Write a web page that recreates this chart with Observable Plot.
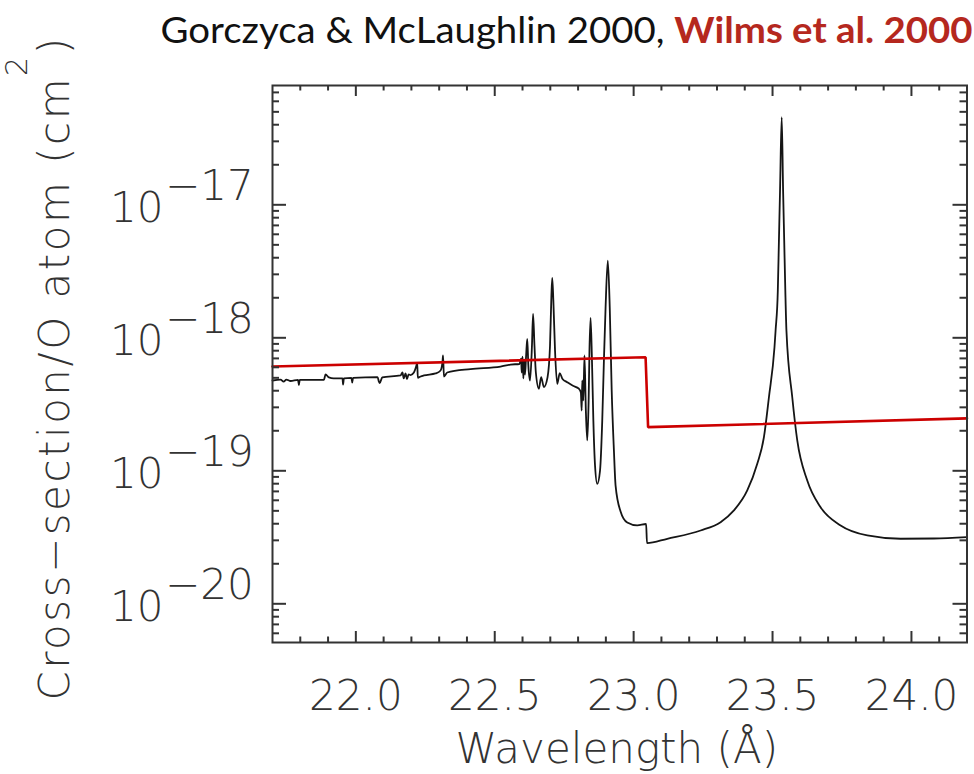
<!DOCTYPE html>
<html>
<head>
<meta charset="utf-8">
<script src="https://cdn.jsdelivr.net/npm/d3@7"></script>
<script src="https://cdn.jsdelivr.net/npm/@observablehq/plot@0.6"></script>
<style>
  body { margin: 0; background: #fff; }
  svg { display: block; }
</style>
</head>
<body>
<div id="chart"></div>
<script>
// Gorczyca & McLaughlin 2000 : wavelength (Å) and log10 cross-section (cm^2)
const gmWavelength = [
  21.700, 21.729, 21.740, 21.750, 21.765, 21.792, 21.795, 21.798, 21.885, 21.891,
  21.903, 21.920, 21.952, 21.954, 21.957, 21.984, 21.987, 21.990, 22.078, 22.083,
  22.086, 22.095, 22.161, 22.168, 22.172, 22.179, 22.184, 22.190, 22.197, 22.209,
  22.217, 22.221, 22.223, 22.233, 22.245, 22.287, 22.305, 22.312, 22.314, 22.317,
  22.329, 22.413, 22.521, 22.557, 22.589, 22.595, 22.597, 22.600, 22.603, 22.606,
  22.609, 22.613, 22.617, 22.621, 22.627, 22.634, 22.638, 22.643, 22.648, 22.659,
  22.667, 22.677, 22.690, 22.699, 22.704, 22.707, 22.711, 22.717, 22.725, 22.734,
  22.744, 22.761, 22.780, 22.803, 22.810, 22.813, 22.815, 22.819, 22.823, 22.828,
  22.833, 22.838, 22.841, 22.845, 22.850, 22.855, 22.861, 22.869, 22.879, 22.887,
  22.893, 22.899, 22.907, 22.914, 22.921, 22.929, 22.935, 22.953, 22.977, 23.013,
  23.045, 23.048, 23.121, 23.241, 23.313, 23.361, 23.409, 23.445, 23.469, 23.487,
  23.507, 23.511, 23.519, 23.523, 23.527, 23.533, 23.538, 23.542, 23.546, 23.550,
  23.571, 23.589, 23.625, 23.673, 23.745, 23.841, 23.961, 24.081, 24.200
];
const gmLogSigma = [
  -18.321, -18.314, -18.329, -18.314, -18.325, -18.317, -18.355, -18.317, -18.317, -18.276,
  -18.298, -18.305, -18.305, -18.351, -18.305, -18.302, -18.336, -18.302, -18.295, -18.329,
  -18.341, -18.298, -18.283, -18.261, -18.305, -18.268, -18.310, -18.276, -18.280, -18.261,
  -18.216, -18.188, -18.301, -18.291, -18.283, -18.268, -18.246, -18.178, -18.133, -18.291,
  -18.261, -18.235, -18.216, -18.201, -18.197, -18.156, -18.261, -18.141, -18.305, -18.171,
  -18.276, -18.133, -18.008, -18.208, -18.321, -18.058, -17.820, -18.058, -18.261, -18.383,
  -18.296, -18.371, -18.298, -18.058, -17.682, -17.549, -17.720, -18.095, -18.346, -18.266,
  -18.310, -18.334, -18.359, -18.383, -18.411, -18.547, -18.321, -18.471, -18.133, -18.547,
  -18.772, -18.471, -18.095, -17.850, -18.171, -18.622, -18.960, -19.098, -18.998, -18.622,
  -18.171, -17.772, -17.419, -17.772, -18.396, -18.847, -19.111, -19.306, -19.389, -19.411,
  -19.400, -19.544, -19.511, -19.449, -19.386, -19.298, -19.148, -18.947, -18.747, -18.447,
  -18.071, -17.945, -17.644, -17.268, -16.892, -16.341, -16.892, -17.268, -17.644, -17.945,
  -18.447, -18.772, -19.073, -19.274, -19.411, -19.486, -19.511, -19.509, -19.499
];

// Wilms et al. 2000 : wavelength (Å) and cross-section (cm^2)
const wilmsWavelength = [21.700, 23.043, 23.052, 24.200];
const wilmsSigma = [6.08e-19, 7.15e-19, 2.13e-19, 2.48e-19];

// Axis ticks
const xMajorTicks = [22.0, 22.5, 23.0, 23.5, 24.0];
const xMinorTicks = [21.8, 21.9, 22.1, 22.2, 22.3, 22.4, 22.6, 22.7, 22.8, 22.9,
                     23.1, 23.2, 23.3, 23.4, 23.6, 23.7, 23.8, 23.9, 24.1];
const yDecadeExponents = [-20, -19, -18, -17];
const yMinorMultipliers = [2, 3, 4, 5, 6, 7, 8, 9];

// Texts
const titleBlack = "Gorczyca & McLaughlin 2000, ";
const titleRed = "Wilms et al. 2000";
const xTitle = "Wavelength (Å)";
const yTitleMain = "Cross\u2212section/O atom (cm";
const yTitleSup = "2";
const yTitleEnd = ")";

// Tables built from the arrays
const gm = gmWavelength.map((w, i) => ({w, s: Math.pow(10, gmLogSigma[i])}));
const wilms = wilmsWavelength.map((w, i) => ({w, s: wilmsSigma[i]}));
const yLo = Math.pow(10, -20.291), yHi = Math.pow(10, -16.103);
const yMajorTicks = yDecadeExponents.map(e => Math.pow(10, e));
const yMinorTicks = [];
for (const e of [-21, -20, -19, -18, -17]) {
  for (const m of yMinorMultipliers) {
    const v = m * Math.pow(10, e);
    if (v > yLo && v < yHi) yMinorTicks.push(v);
  }
}

const W = 974, H = 774;
const mL = 272, mR = 7.5, mT = 85, mB = 132;
const fw = W - mL - mR, fh = H - mT - mB;
const axisColor = "#333";
const font = "DejaVu Sans";

const svg = Plot.plot({
  width: W,
  height: H,
  marginLeft: mL,
  marginRight: mR,
  marginTop: mT,
  marginBottom: mB,
  style: {background: "#fff", overflow: "visible"},
  x: {domain: [21.7, 24.2], axis: null},
  y: {type: "log", domain: [yLo, yHi], axis: null},
  marks: [
    Plot.line(gm, {x: "w", y: "s", stroke: "#151515", strokeWidth: 1.8, curve: "monotone-x"}),
    Plot.line(wilms, {x: "w", y: "s", stroke: "#cc0000", strokeWidth: 2.6, strokeLinejoin: "miter"}),
    Plot.frame({stroke: axisColor, strokeWidth: 2}),
    // bottom ticks
    Plot.tickX(xMajorTicks, {x: d => d, insetTop: fh - 11, stroke: axisColor, strokeWidth: 2}),
    Plot.tickX(xMinorTicks, {x: d => d, insetTop: fh - 5.5, stroke: axisColor, strokeWidth: 2}),
    // top ticks
    Plot.tickX(xMajorTicks, {x: d => d, insetBottom: fh - 11, stroke: axisColor, strokeWidth: 2}),
    Plot.tickX(xMinorTicks, {x: d => d, insetBottom: fh - 5.5, stroke: axisColor, strokeWidth: 2}),
    // left ticks
    Plot.tickY(yMajorTicks, {y: d => d, insetRight: fw - 14, stroke: axisColor, strokeWidth: 2}),
    Plot.tickY(yMinorTicks, {y: d => d, insetRight: fw - 7, stroke: axisColor, strokeWidth: 2}),
    // right ticks
    Plot.tickY(yMajorTicks, {y: d => d, insetLeft: fw - 14, stroke: axisColor, strokeWidth: 2}),
    Plot.tickY(yMinorTicks, {y: d => d, insetLeft: fw - 7, stroke: axisColor, strokeWidth: 2}),
    // x tick labels
    Plot.text(xMajorTicks, {
      x: d => d, text: d => d.toFixed(1), frameAnchor: "bottom", dy: 67,
      lineAnchor: "bottom", textAnchor: "middle",
      fontSize: 42, fontFamily: font, fontWeight: 200, fill: axisColor
    }),
    // y tick labels: "10" and exponent
    Plot.text(yDecadeExponents, {
      y: e => Math.pow(10, e), text: () => "10", frameAnchor: "left", dx: -109, dy: 17,
      lineAnchor: "bottom", textAnchor: "end",
      fontSize: 42, fontFamily: font, fontWeight: 200, fill: axisColor
    }),
    Plot.text(yDecadeExponents, {
      y: e => Math.pow(10, e), text: e => "\u2212" + Math.abs(e), frameAnchor: "left", dx: -107.5, dy: -5,
      lineAnchor: "bottom", textAnchor: "start",
      fontSize: 42, fontFamily: font, fontWeight: 200, fill: axisColor
    }),
    // x title
    Plot.text([xTitle], {
      text: d => d, frameAnchor: "bottom", dx: -3, dy: 120,
      lineAnchor: "bottom", textAnchor: "middle",
      fontSize: 42, fontFamily: font, fontWeight: 200, fill: axisColor
    }),
    // y title
    Plot.text([yTitleMain + yTitleSup + yTitleEnd], {
      text: d => d, frameAnchor: "left", dx: 68 - mL, dy: 4, rotate: -90,
      lineAnchor: "bottom", textAnchor: "middle",
      fontSize: 42, fontFamily: font, fontWeight: 200, fill: axisColor
    }),
    // main title
    Plot.text([titleBlack + titleRed], {
      text: d => d, frameAnchor: "top", dx: 566 - (mL + fw / 2), dy: 42 - mT,
      lineAnchor: "bottom", textAnchor: "middle",
      fontSize: 36, fontFamily: "Lato", fill: "#111"
    })
  ]
});

document.getElementById("chart").append(svg);

// Rich text: superscript in the y title, two-colour title
d3.select(svg).selectAll("text").each(function () {
  const t = this.textContent;
  const sel = d3.select(this);
  if (t === yTitleMain + yTitleSup + yTitleEnd) {
    sel.text(null).style("letter-spacing", "2.5px");
    sel.append("tspan").text(yTitleMain);
    sel.append("tspan").attr("dy", -42).attr("font-size", 30).text(yTitleSup);
    sel.append("tspan").attr("dy", 42).text(yTitleEnd);
  } else if (t === titleBlack + titleRed) {
    sel.text(null);
    sel.append("tspan").text(titleBlack);
    sel.append("tspan").attr("font-weight", "bold").attr("fill", "#b5281e").text(titleRed);
    sel.attr("textLength", 812).attr("lengthAdjust", "spacingAndGlyphs");
  }
});
</script>
</body>
</html>
